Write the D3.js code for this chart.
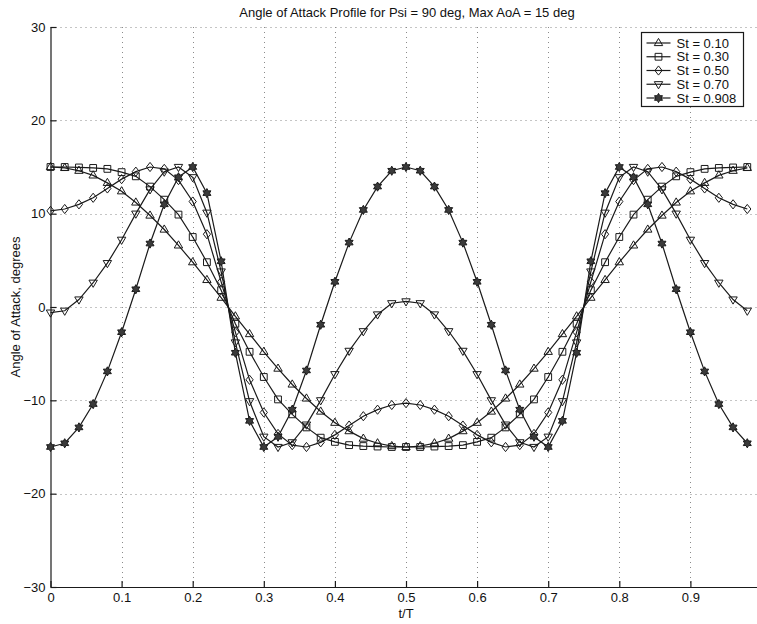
<!DOCTYPE html>
<html>
<head>
<meta charset="utf-8">
<script src="https://cdn.jsdelivr.net/npm/d3@7"></script>
<style>
  html, body { margin: 0; padding: 0; background: #fff; }
  svg { display: block; }
  text { font-family: "Liberation Sans", Arial, Helvetica, sans-serif; fill: #111; }
</style>
</head>
<body>
<svg id="chart" width="757" height="624"></svg>
<script>
// ---------------- data ----------------
const titleText = "Angle of Attack Profile for Psi = 90 deg, Max AoA = 15 deg";
const xLabelText = "t/T";
const yLabelText = "Angle of Attack, degrees";

const tValues = [
  0.00, 0.02, 0.04, 0.06, 0.08, 0.10, 0.12, 0.14, 0.16, 0.18,
  0.20, 0.22, 0.24, 0.26, 0.28, 0.30, 0.32, 0.34, 0.36, 0.38,
  0.40, 0.42, 0.44, 0.46, 0.48, 0.50, 0.52, 0.54, 0.56, 0.58,
  0.60, 0.62, 0.64, 0.66, 0.68, 0.70, 0.72, 0.74, 0.76, 0.78,
  0.80, 0.82, 0.84, 0.86, 0.88, 0.90, 0.92, 0.94, 0.96, 0.98
];

const seriesNames = ["St = 0.10", "St = 0.30", "St = 0.50", "St = 0.70", "St = 0.908"];
const seriesMarkers = ["triangleUp", "square", "diamond", "triangleDown", "hexagram"];

const st010 = [
  15.0, 14.9, 14.6, 14.1, 13.3, 12.4, 11.2, 9.8, 8.3, 6.6,
  4.8, 2.9, 1.0, -1.0, -2.9, -4.8, -6.6, -8.3, -9.8, -11.2,
  -12.4, -13.3, -14.1, -14.6, -14.9,
  -15.0, -14.9, -14.6, -14.1, -13.3, -12.4, -11.2, -9.8, -8.3, -6.6,
  -4.8, -2.9, -1.0, 1.0, 2.9, 4.8, 6.6, 8.3, 9.8, 11.2,
  12.4, 13.3, 14.1, 14.6, 14.9
];
const st030 = [
  15.0, 15.0, 14.95, 14.9, 14.8, 14.45, 14.0, 12.9, 11.5, 9.9,
  7.5, 4.8, 1.8, -1.8, -4.8, -7.5, -9.9, -11.5, -12.9, -14.0,
  -14.45, -14.8, -14.9, -14.95, -15.0,
  -15.0, -15.0, -14.95, -14.9, -14.8, -14.45, -14.0, -12.9, -11.5, -9.9,
  -7.5, -4.8, -1.8, 1.8, 4.8, 7.5, 9.9, 11.5, 12.9, 14.0,
  14.45, 14.8, 14.9, 14.95, 15.0
];
const st050 = [
  10.3, 10.5, 11.0, 11.7, 12.7, 13.7, 14.5, 15.0, 14.8, 13.6,
  11.3, 7.8, 2.7, -2.7, -7.8, -11.3, -13.6, -14.8, -15.0, -14.5,
  -13.7, -12.7, -11.7, -11.0, -10.5,
  -10.3, -10.5, -11.0, -11.7, -12.7, -13.7, -14.5, -15.0, -14.8, -13.6,
  -11.3, -7.8, -2.7, 2.7, 7.8, 11.3, 13.6, 14.8, 15.0, 14.5,
  13.7, 12.7, 11.7, 11.0, 10.5
];
const st070 = [
  -0.6, -0.4, 0.8, 2.6, 4.7, 7.2, 10.0, 12.6, 14.5, 15.0,
  13.9, 10.1, 3.8, -3.8, -10.1, -13.9, -15.0, -14.5, -12.6, -10.0,
  -7.2, -4.7, -2.6, -0.8, 0.4,
  0.6, 0.4, -0.8, -2.6, -4.7, -7.2, -10.0, -12.6, -14.5, -15.0,
  -13.9, -10.1, -3.8, 3.8, 10.1, 13.9, 15.0, 14.5, 12.6, 10.0,
  7.2, 4.7, 2.6, 0.8, -0.4
];
const st0908 = [
  -15.0, -14.6, -12.9, -10.4, -6.9, -2.7, 1.9, 6.8, 11.0, 13.9,
  15.0, 12.2, 4.9, -4.9, -12.2, -15.0, -13.9, -11.0, -6.8, -1.9,
  2.7, 6.9, 10.4, 12.9, 14.6,
  15.0, 14.6, 12.9, 10.4, 6.9, 2.7, -1.9, -6.8, -11.0, -13.9,
  -15.0, -12.2, -4.9, 4.9, 12.2, 15.0, 13.9, 11.0, 6.8, 1.9,
  -2.7, -6.9, -10.4, -12.9, -14.6
];
const seriesValues = [st010, st030, st050, st070, st0908];

const xTicks = [0, 0.1, 0.2, 0.3, 0.4, 0.5, 0.6, 0.7, 0.8, 0.9];
const xTickLabels = ["0", "0.1", "0.2", "0.3", "0.4", "0.5", "0.6", "0.7", "0.8", "0.9"];
const yTicks = [-30, -20, -10, 0, 10, 20, 30];
const yTickLabels = ["\u221230", "\u221220", "\u221210", "0", "10", "20", "30"];

// ---------------- layout ----------------
const W = 757, H = 624;
const plot = { left: 50.5, right: 761.5, top: 27, bottom: 587 };
const ink = "#1a1a1a";
const fontSize = 13;

const svg = d3.select("#chart");
const x = d3.scaleLinear().domain([0, 1]).range([plot.left, plot.right]);
const y = d3.scaleLinear().domain([-30, 30]).range([plot.bottom, plot.top]);

// grid
const grid = svg.append("g").attr("stroke", "#8a8a8a").attr("stroke-width", 1)
  .attr("stroke-dasharray", "1,4").attr("fill", "none");
xTicks.filter(d => d > 0).forEach(d => {
  grid.append("line").attr("x1", Math.round(x(d)) + 0.5).attr("x2", Math.round(x(d)) + 0.5)
    .attr("y1", plot.top).attr("y2", plot.bottom);
});
yTicks.filter(d => d > -30).forEach(d => {
  grid.append("line").attr("y1", Math.round(y(d)) + 0.5).attr("y2", Math.round(y(d)) + 0.5)
    .attr("x1", plot.left).attr("x2", W);
});

// axes
const xAxis = d3.axisBottom(x).tickValues(xTicks)
  .tickFormat((d, i) => xTickLabels[i]).tickSizeInner(-6).tickSizeOuter(0).tickPadding(6);
const yAxis = d3.axisLeft(y).tickValues(yTicks)
  .tickFormat((d, i) => yTickLabels[i]).tickSizeInner(-6).tickSizeOuter(0).tickPadding(5);

const gx = svg.append("g").attr("transform", `translate(0,${plot.bottom})`).call(xAxis);
const gy = svg.append("g").attr("transform", `translate(${plot.left},0)`).call(yAxis);
[gx, gy].forEach(g => {
  g.selectAll("path.domain").attr("stroke", ink).attr("stroke-width", 1.2);
  g.selectAll(".tick line").attr("stroke", ink).attr("stroke-width", 1.2);
  g.selectAll(".tick text").attr("font-size", fontSize).attr("fill", "#111")
    .attr("font-family", '"Liberation Sans", Arial, Helvetica, sans-serif');
});

// markers
function markerPath(type) {
  const p = d3.path();
  if (type === "triangleUp") {
    p.moveTo(0, -4.6); p.lineTo(4.2, 2.6); p.lineTo(-4.2, 2.6); p.closePath();
  } else if (type === "triangleDown") {
    p.moveTo(0, 4.6); p.lineTo(4.2, -2.6); p.lineTo(-4.2, -2.6); p.closePath();
  } else if (type === "square") {
    p.rect(-3.4, -3.4, 6.8, 6.8);
  } else if (type === "diamond") {
    p.moveTo(0, -4.6); p.lineTo(3.6, 0); p.lineTo(0, 4.6); p.lineTo(-3.6, 0); p.closePath();
  } else if (type === "hexagram") {
    const ro = 4.6, ri = 2.6;
    for (let k = 0; k < 12; k++) {
      const r = k % 2 === 0 ? ro : ri;
      const a = -Math.PI / 2 + k * Math.PI / 6;
      if (k === 0) p.moveTo(r * Math.cos(a), r * Math.sin(a));
      else p.lineTo(r * Math.cos(a), r * Math.sin(a));
    }
    p.closePath();
  }
  return p.toString();
}

const line = d3.line().x(d => x(d[0])).y(d => y(d[1]));

seriesValues.forEach((vals, si) => {
  const pts = tValues.map((t, i) => [t, vals[i]]);
  const g = svg.append("g");
  g.append("path").datum(pts).attr("d", line)
    .attr("fill", "none").attr("stroke", ink).attr("stroke-width", 1.2);
  const filled = seriesMarkers[si] === "hexagram";
  g.selectAll("path.mk").data(pts).enter().append("path").attr("class", "mk")
    .attr("d", markerPath(seriesMarkers[si]))
    .attr("transform", d => `translate(${x(d[0])},${y(d[1])})`)
    .attr("fill", filled ? "#3a3a3a" : "none")
    .attr("stroke", ink).attr("stroke-width", 1);
});

// legend
const leg = { x: 641.5, y: 32.5, w: 102, h: 74, rowH: 13.75, first: 43 };
svg.append("rect").attr("x", leg.x).attr("y", leg.y).attr("width", leg.w).attr("height", leg.h)
  .attr("fill", "#fff").attr("stroke", ink).attr("stroke-width", 1.2);
seriesNames.forEach((name, i) => {
  const cy = leg.first + i * leg.rowH;
  svg.append("line").attr("x1", leg.x + 5).attr("x2", leg.x + 29).attr("y1", cy).attr("y2", cy)
    .attr("stroke", ink).attr("stroke-width", 1.2);
  svg.append("path").attr("d", markerPath(seriesMarkers[i]))
    .attr("transform", `translate(${leg.x + 17},${cy})`)
    .attr("fill", seriesMarkers[i] === "hexagram" ? "#3a3a3a" : "none")
    .attr("stroke", ink).attr("stroke-width", 1);
  svg.append("text").attr("x", leg.x + 35).attr("y", cy).attr("dy", "0.36em")
    .attr("font-size", fontSize).text(name);
});

// title and labels
svg.append("text").attr("x", 407).attr("y", 17).attr("text-anchor", "middle")
  .attr("font-size", fontSize).text(titleText);
svg.append("text").attr("x", 406).attr("y", 618).attr("text-anchor", "middle")
  .attr("font-size", fontSize).text(xLabelText);
svg.append("text").attr("transform", `translate(15,${y(0)}) rotate(-90)`)
  .attr("text-anchor", "middle").attr("dy", "0.35em")
  .attr("font-size", fontSize).text(yLabelText);
</script>
</body>
</html>
